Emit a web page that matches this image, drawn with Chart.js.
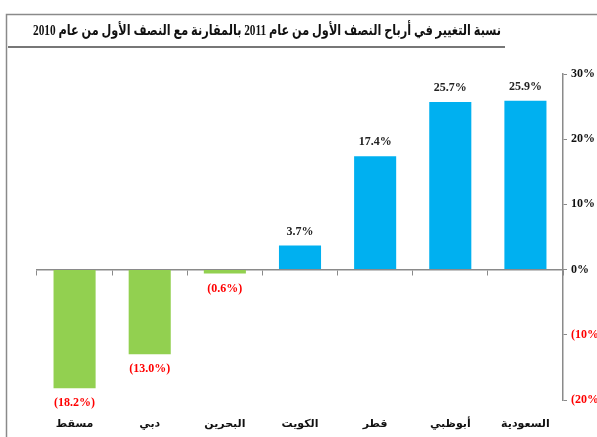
<!DOCTYPE html>
<html>
<head>
<meta charset="utf-8">
<script src="https://cdn.jsdelivr.net/npm/chart.js@4/dist/chart.umd.min.js"></script>
<style>
  html, body { margin: 0; padding: 0; background: #fff; overflow: hidden; }
  #wrap { position: absolute; left: 0; top: 0; width: 625px; height: 437px; }
</style>
</head>
<body>
<div id="wrap"><canvas id="c"></canvas></div>
<script>
const titleText = "نسبة التغيير في أرباح النصف الأول من عام 2011 بالمقارنة مع النصف الأول من عام 2010";
const markets = ["مسقط", "دبي", "البحرين", "الكويت", "قطر", "أبوظبي", "السعودية"];
const changes = [-18.2, -13.0, -0.6, 3.7, 17.4, 25.7, 25.9];
const yTicks = [-20, -10, 0, 10, 20, 30];

const BLUE = "#00B0F0";
const GREEN = "#92D050";
const RED = "#FF0000";
const GREY = "#8a8a8a";
const SERIF = "'Liberation Serif', 'DejaVu Serif', 'DejaVu Sans'";

function pct(v) {
  return v < 0 ? "(" + Math.abs(v).toFixed(1) + "%)" : v.toFixed(1) + "%";
}

// frame, title and underline
const framePlugin = {
  id: "frame",
  beforeDraw(chart) {
    const ctx = chart.ctx;
    ctx.save();
    ctx.strokeStyle = GREY;
    ctx.lineWidth = 1.5;
    ctx.beginPath();
    ctx.moveTo(6.5, 437);
    ctx.lineTo(6.5, 14.5);
    ctx.lineTo(625, 14.5);
    ctx.stroke();

    // title squeezed to the width it takes in the original
    ctx.fillStyle = "#111";
    ctx.font = "bold 15px " + SERIF;
    ctx.textAlign = "center";
    ctx.textBaseline = "middle";
    ctx.direction = "rtl";
    const w = ctx.measureText(titleText).width;
    const sx = Math.min(1, 468 / w);
    ctx.save();
    ctx.translate(267, 31);
    ctx.scale(sx, 1);
    ctx.fillText(titleText, 0, 0);
    ctx.restore();

    ctx.strokeStyle = "#777";
    ctx.lineWidth = 2;
    ctx.beginPath();
    ctx.moveTo(8, 47);
    ctx.lineTo(505, 47);
    ctx.stroke();
    ctx.restore();
  }
};

// value labels over / under the bars
const valuePlugin = {
  id: "values",
  afterDatasetsDraw(chart) {
    const ctx = chart.ctx;
    const meta = chart.getDatasetMeta(0);
    ctx.save();
    ctx.font = "bold 12px " + SERIF;
    ctx.textAlign = "center";
    meta.data.forEach((bar, i) => {
      const v = changes[i];
      if (v < 0) {
        ctx.fillStyle = RED;
        ctx.textBaseline = "top";
        ctx.fillText(pct(v), bar.x, bar.y + 9);
      } else {
        ctx.fillStyle = "#222";
        ctx.textBaseline = "bottom";
        ctx.fillText(pct(v), bar.x, bar.y - 8);
      }
    });
    ctx.restore();
  }
};

new Chart(document.getElementById("c"), {
  type: "bar",
  data: {
    labels: markets,
    datasets: [{
      data: changes,
      xAxisID: "x",
      yAxisID: "y",
      backgroundColor: changes.map(v => v < 0 ? GREEN : BLUE),
      borderWidth: 0,
      barPercentage: 0.56,
      categoryPercentage: 1.0
    }]
  },
  options: {
    responsive: true,
    maintainAspectRatio: false,
    animation: false,
    layout: { padding: { left: 37, top: 74, right: 0, bottom: 0 } },
    plugins: {
      legend: { display: false },
      tooltip: { enabled: false }
    },
    scales: {
      x: {
        type: "category",
        position: { y: 0 },
        offset: true,
        grid: { offset: true, drawOnChartArea: false, drawTicks: true, tickLength: 5, color: GREY, lineWidth: 1 },
        border: { display: true, color: GREY, width: 1.5 },
        ticks: { display: false }
      },
      x2: {
        type: "category",
        labels: markets,
        position: "bottom",
        offset: true,
        grid: { display: false, drawTicks: false },
        border: { display: false },
        ticks: {
          color: "#111",
          padding: 18,
          maxRotation: 0,
          font: { family: SERIF, size: 11, weight: "bold" }
        },
        afterFit(scale) { scale.height = 37; }
      },
      y: {
        position: "right",
        min: -20,
        max: 30,
        afterBuildTicks(scale) { scale.ticks = yTicks.map(v => ({ value: v })); },
        grid: { drawOnChartArea: false, drawTicks: true, tickLength: 4, color: GREY },
        border: { display: true, color: GREY, width: 1.5 },
        ticks: {
          padding: 4,
          color: ctx => ctx.tick.value < 0 ? RED : "#111",
          font: { family: SERIF, size: 12, weight: "bold" },
          callback: v => v < 0 ? "(" + Math.abs(v) + "%)" : v + "%"
        },
        afterFit(scale) { scale.width = 62; }
      }
    }
  },
  plugins: [framePlugin, valuePlugin]
});
</script>
</body>
</html>
